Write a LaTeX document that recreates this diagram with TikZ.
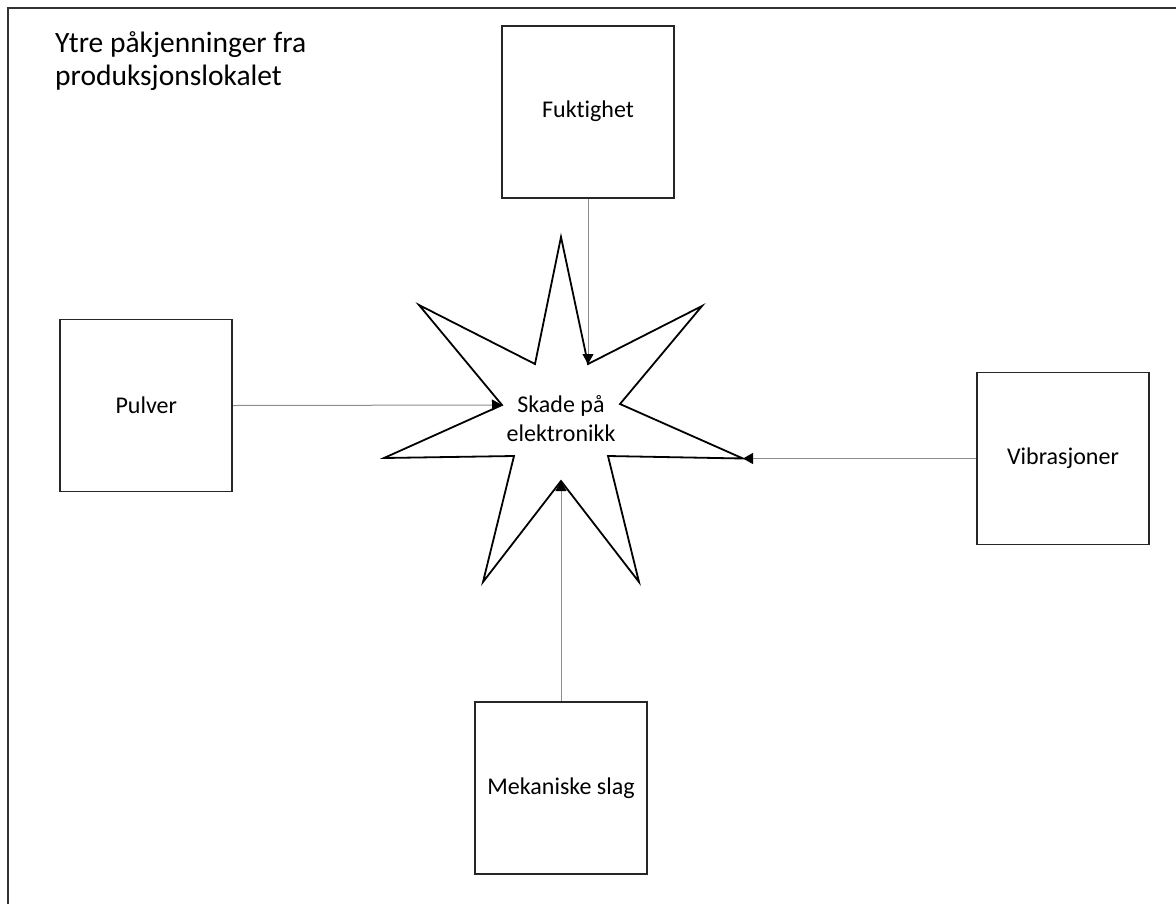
\documentclass[tikz,border=0pt]{standalone}
\usepackage{fontspec}
\setmainfont{Carlito}[Ligatures=NoCommon]
\usetikzlibrary{arrows.meta}
\begin{document}
\begin{tikzpicture}[x=1pt,y=-1pt,
  box/.style={draw=black!85, line width=1.8pt, minimum width=172pt, minimum height=172pt,
    inner sep=0pt, font=\fontsize{24}{29}\selectfont, text=black},
  conn/.style={draw=black!45, line width=1pt, -{Triangle[length=10pt,width=11pt,black]}},
  frame/.style={draw=black!80, line width=1.8pt},
  startline/.style={draw=black, line width=1.8pt, line join=miter, fill=white},
  lbl/.style={font=\fontsize{24}{29}\selectfont, text=black, align=center, inner sep=0pt}]
\useasboundingbox (0,0) rectangle (1176,903);
\draw[frame] (8,906) -- (8,8) -- (1180,8);
\node[anchor=west, align=left, inner sep=0pt, font=\fontsize{29.5}{33}\selectfont, text=black]
  (title) at (55,61) {Ytre påkjenninger fra\\produksjonslokalet};
% star
\coordinate (o1) at (561,237);
\coordinate (i1) at (588,364);
\coordinate (o2) at (702,306);
\coordinate (i2) at (620,404);
\coordinate (o3) at (743,458.5);
\coordinate (i3) at (608,456);
\coordinate (o4) at (639,582);
\coordinate (i4) at (561,481);
\coordinate (o5) at (483,582);
\coordinate (i5) at (514,456);
\coordinate (o6) at (384,458);
\coordinate (i6) at (502,405);
\coordinate (o7) at (419,305);
\coordinate (i7) at (535,364);
\draw[startline] (o1) -- (i1) -- (o2) -- (i2) -- (o3) -- (i3) -- (o4) -- (i4) -- (o5) -- (i5) -- (o6) -- (i6) -- (o7) -- (i7) -- cycle;
\node[lbl] (skade) at (561,418.5) {Skade på\\elektronikk};
% boxes
\node[box] (fukt) at (588,111.7) {Fuktighet};
\node[box] (pulver) at (146.3,405.5) {Pulver};
\node[box] (vib) at (1063,458.5) {Vibrasjoner};
\node[box] (mek) at (561,788.3) {Mekaniske slag};
% connectors
\draw[conn] (fukt.south) -- (i1);
\draw[conn] (pulver.east) -- (i6);
\draw[conn] (vib.west) -- (o3);
\draw[conn] (mek.north) -- (i4);
\end{tikzpicture}
\end{document}
